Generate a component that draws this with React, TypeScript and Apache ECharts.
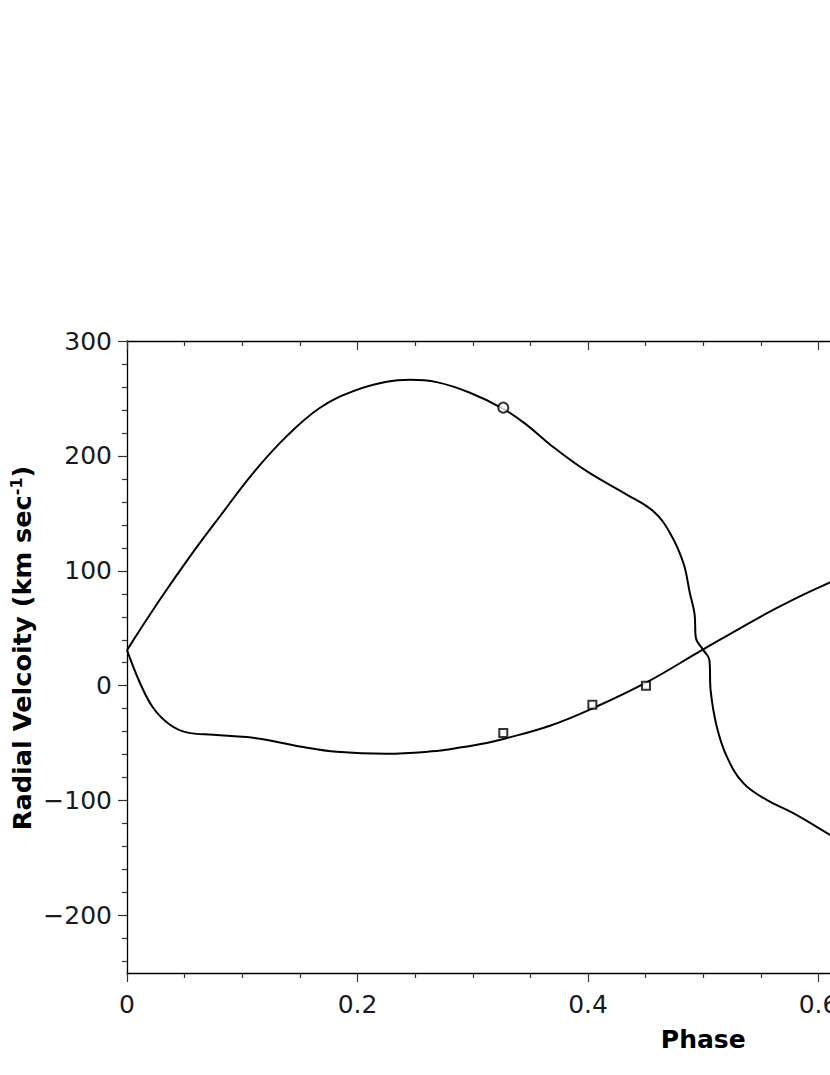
import React, { useEffect, useRef } from "react";
import * as echarts from "echarts";

// Primary star radial-velocity model curve [phase, km/s]
const primaryCurve: [number, number][] = [
  [0, 31], [0.0286, 75], [0.0547, 112.6], [0.0807, 147.5], [0.1096, 185.3],
  [0.1386, 217.2], [0.1675, 241.9], [0.1964, 256.4], [0.2253, 264.5],
  [0.2456, 266.3], [0.2687, 264.2], [0.2976, 255], [0.3265, 241],
  [0.3468, 227], [0.367, 210], [0.3989, 186.7], [0.4336, 166.4],
  [0.4567, 151.8], [0.4711, 133], [0.4827, 107], [0.4885, 80],
  [0.4925, 62], [0.4935, 42], [0.5001, 31], [0.5053, 22.6], [0.5065, -5],
  [0.5117, -35.5], [0.5204, -61.6], [0.5348, -84.8], [0.555, -99.3],
  [0.5781, -110.9], [0.61, -129.8], [0.6125, -131.5],
];

// Secondary star radial-velocity model curve
const secondaryCurve: [number, number][] = [
  [0, 31], [0.0113, 2.4], [0.0228, -19.4], [0.0373, -34], [0.0518, -40.6],
  [0.0749, -42.7], [0.1039, -44.7], [0.1241, -47.6], [0.153, -53.4],
  [0.182, -57.5], [0.2253, -59.2], [0.2687, -56.9], [0.2803, -55.2],
  [0.3121, -49.8], [0.3265, -46.4], [0.367, -34.8], [0.4046, -19.4],
  [0.452, 3.6], [0.497, 29.9], [0.5492, 59.8], [0.5781, 74.9],
  [0.61, 90], [0.6125, 91.2],
];

// Observed points
const primaryObs: [number, number][] = [[0.3265, 242]];
const secondaryObs: [number, number][] = [[0.3265, -41.2], [0.4038, -16.6], [0.4503, 0]];

// Axis ticks
const yMajorTicks = [-200, -100, 0, 100, 200, 300];
const yMinorTicks = [
  -240, -220, -180, -160, -140, -120, -80, -60, -40, -20,
  20, 40, 60, 80, 120, 140, 160, 180, 220, 240, 260, 280,
];

const FONT = "DejaVu Sans";
const INK = "#000";
const fmtY = (v: number) => (v < 0 ? "\u2212" + Math.abs(v) : String(v));

export default function App() {
  const ref = useRef<HTMLDivElement>(null);

  useEffect(() => {
    if (!ref.current) return;
    const chart = echarts.init(ref.current, null, { renderer: "svg" });
    const axisLine = { show: true, onZero: false, lineStyle: { color: INK, width: 1.3 } };
    const tickStyle = { color: "#333", width: 1.2 };
    const labelStyle = { fontFamily: FONT, fontSize: 25, color: "#1a1a1a" };

    chart.setOption({
      animation: false,
      backgroundColor: "#fff",
      grid: { left: 127, top: 341, width: 1152.5, height: 632, containLabel: false },
      xAxis: [
        {
          type: "value", position: "bottom", min: 0, max: 1, interval: 0.2,
          axisLine,
          axisTick: { show: true, inside: false, length: 9, lineStyle: tickStyle },
          minorTick: { show: true, splitNumber: 4, length: 5, lineStyle: tickStyle },
          axisLabel: { ...labelStyle, margin: 19 },
          splitLine: { show: false },
          name: "Phase",
          nameLocation: "middle",
          nameGap: 54,
          nameTextStyle: { fontFamily: FONT, fontSize: 25, fontWeight: "bold", color: INK },
        },
        {
          type: "value", position: "top", min: 0, max: 1, interval: 0.2,
          axisLine,
          axisTick: { show: true, inside: true, length: 9, lineStyle: tickStyle },
          minorTick: { show: true, splitNumber: 4, length: 5, lineStyle: tickStyle },
          axisLabel: { show: false },
          splitLine: { show: false },
        },
      ],
      yAxis: [
        {
          type: "value", position: "left", min: -250, max: 300,
          axisLine,
          axisTick: { show: true, inside: false, length: 9, customValues: yMajorTicks, lineStyle: tickStyle },
          axisLabel: { ...labelStyle, margin: 15, customValues: yMajorTicks, formatter: fmtY },
          splitLine: { show: false },
        },
        {
          type: "value", position: "left", min: -250, max: 300,
          axisLine: { show: false, onZero: false },
          axisTick: { show: true, inside: false, length: 5, customValues: yMinorTicks, lineStyle: tickStyle },
          axisLabel: { show: false },
          splitLine: { show: false },
        },
        {
          type: "value", position: "right", min: -250, max: 300,
          axisLine,
          axisTick: { show: true, inside: true, length: 9, customValues: yMajorTicks, lineStyle: tickStyle },
          axisLabel: { show: false },
          splitLine: { show: false },
        },
      ],
      graphic: [
        {
          type: "text",
          x: 22,
          y: 648,
          rotation: Math.PI / 2,
          style: {
            text: "{b|Radial Velcoity (km sec}{s|-1}{b|)}",
            align: "center",
            verticalAlign: "middle",
            fill: INK,
            rich: {
              b: { fontFamily: FONT, fontSize: 25.6, fontWeight: "bold", fill: INK },
              s: { fontFamily: FONT, fontSize: 16, fontWeight: "bold", fill: INK, padding: [0, 0, 11, 0] },
            },
          },
        },
      ],
      series: [
        {
          type: "line", name: "Primary model", data: primaryCurve,
          xAxisIndex: 0, yAxisIndex: 0,
          showSymbol: false, smooth: 0.4,
          lineStyle: { color: INK, width: 2 }, z: 2,
        },
        {
          type: "line", name: "Secondary model", data: secondaryCurve,
          xAxisIndex: 0, yAxisIndex: 0,
          showSymbol: false, smooth: 0.4,
          lineStyle: { color: INK, width: 2 }, z: 2,
        },
        {
          type: "scatter", name: "Primary obs", data: primaryObs,
          xAxisIndex: 0, yAxisIndex: 0,
          symbol: "circle", symbolSize: 10,
          itemStyle: { color: "#fff", borderColor: INK, borderWidth: 2 }, z: 3,
        },
        {
          type: "scatter", name: "Secondary obs", data: secondaryObs,
          xAxisIndex: 0, yAxisIndex: 0,
          symbol: "rect", symbolSize: 8,
          itemStyle: { color: "#fff", borderColor: INK, borderWidth: 2 }, z: 3,
        },
      ],
    });
    return () => chart.dispose();
  }, []);

  return (
    <div
      style={{
        position: "fixed", left: 0, top: 0, width: 830, height: 1075,
        overflow: "hidden", background: "#fff",
      }}
    >
      <div ref={ref} style={{ width: 1400, height: 1075 }} />
    </div>
  );
}
